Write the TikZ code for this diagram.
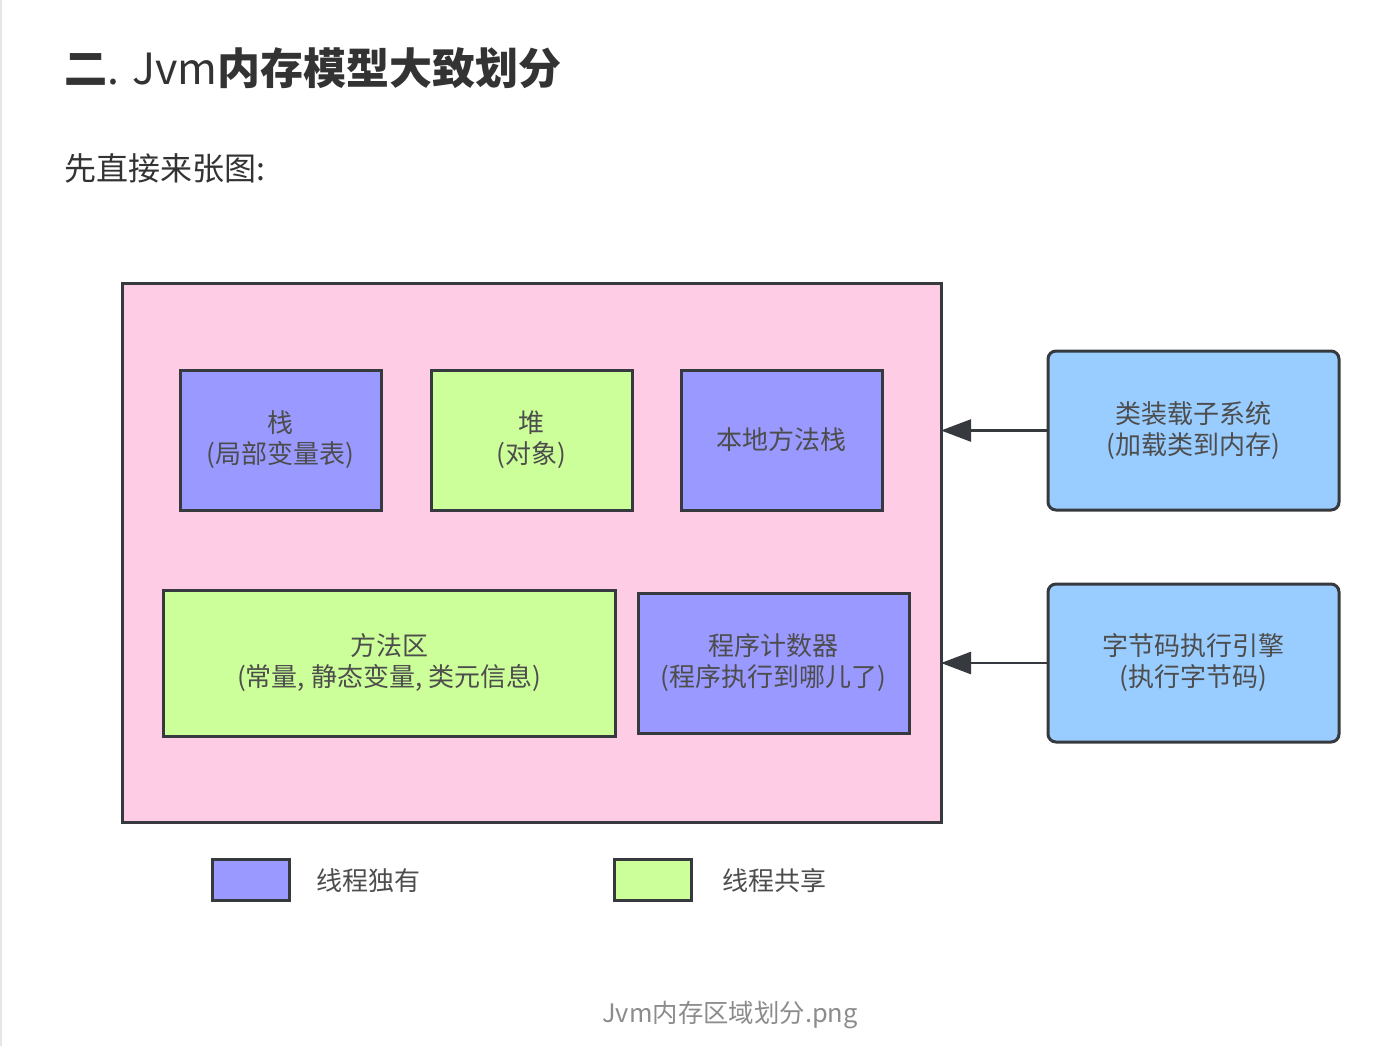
\documentclass[tikz,border=0pt]{standalone}
\usepackage{fontspec}
\newfontfamily\cjk{Noto Sans CJK SC}
\usetikzlibrary{
  arrows.meta,
  positioning
}
\definecolor{ink}{HTML}{333333}
\definecolor{muted}{HTML}{8C8C8C}
\definecolor{edge}{HTML}{36393D}
\definecolor{jvmbg}{HTML}{FFCCE6}
\definecolor{private}{HTML}{9999FF}
\definecolor{shared}{HTML}{CCFF99}
\definecolor{engine}{HTML}{99CCFF}
\definecolor{boxtext}{HTML}{4D4D4D}
\definecolor{pagerule}{HTML}{E6E6E6}

\begin{document}
\begin{tikzpicture}[
  x=0.5pt, y=-0.5pt,
  font=\cjk,
  area/.style={
    draw=edge,
    line width=1.5pt,
    fill=private,
    inner sep=0pt,
    outer sep=0pt,
    minimum width=100.5pt,
    minimum height=70pt,
    align=center,
    text=boxtext,
    font=\cjk\fontsize{13pt}{15.5pt}\selectfont
  },
  sharedarea/.style={
    area,
    fill=shared
  },
  subsystem/.style={
    area,
    fill=engine,
    rounded corners=4pt,
    minimum width=145.5pt,
    minimum height=79.5pt
  },
  swatch/.style={
    draw=edge,
    line width=1.5pt,
    inner sep=0pt,
    minimum width=38.5pt,
    minimum height=20.5pt
  },
  legendtext/.style={
    anchor=west,
    inner sep=0pt,
    text=boxtext,
    font=\cjk\fontsize{13pt}{16pt}\selectfont
  },
  feed/.style={
    -{Triangle[length=15pt,width=11pt]},
    line width=1.3pt,
    draw=edge
  }
]
\useasboundingbox (0,0) rectangle (1390,1046);
\draw[pagerule, line width=1pt] (1,0) -- (1,1046);

% Heading and intro line
\node[anchor=west, inner sep=0pt, text=ink, font=\cjk\fontsize{21.5pt}{26pt}\selectfont] (heading) at (64,68)
  {\bfseries 二\mdseries. Jvm\bfseries 内存模型大致划分};
\node[anchor=west, inner sep=0pt, text=ink, font=\cjk\fontsize{16pt}{20pt}\selectfont] (intro) at (64,168) {先直接来张图:};

% Runtime data area
\node[draw=edge, line width=1.5pt, fill=jvmbg, minimum width=409.5pt, minimum height=269.5pt, outer sep=0pt] (jvm) at (531.5,552.5) {};

\node[area] (stack) at (280.5,440) {栈\\(局部变量表)};
\node[sharedarea] (heap) at (531.5,440) {堆\\(对象)};
\node[area] (native) at (781.5,440) {本地方法栈};
\node[sharedarea, minimum width=226pt, minimum height=73pt] (method) at (389,663) {方法区\\(常量, 静态变量, 类元信息)};
\node[area, minimum width=135.5pt] (pc) at (773.5,663) {程序计数器\\(程序执行到哪儿了)};

% Subsystems outside
\node[subsystem] (loader) at (1193.5,430.5) {类装载子系统\\(加载类到内存)};
\node[subsystem, minimum height=79pt] (exec) at (1193.5,663) {字节码执行引擎\\(执行字节码)};

\draw[feed] (loader.west) -- (loader.west -| jvm.east);
\draw[feed] (exec.west) -- (exec.west -| jvm.east);

% Legend
\node[swatch, fill=private] (keyown) at (250.5,879.5) {};
\node[legendtext] (keyowntext) at (316,881) {线程独有};
\node[swatch, fill=shared] (keyshare) at (652.5,879.5) {};
\node[legendtext] (keysharetext) at (722,881) {线程共享};

% Caption
\node[text=muted, font=\cjk\fontsize{12.7pt}{16pt}\selectfont] (caption) at (730,1015) {Jvm内存区域划分.png};

\end{tikzpicture}
\end{document}
